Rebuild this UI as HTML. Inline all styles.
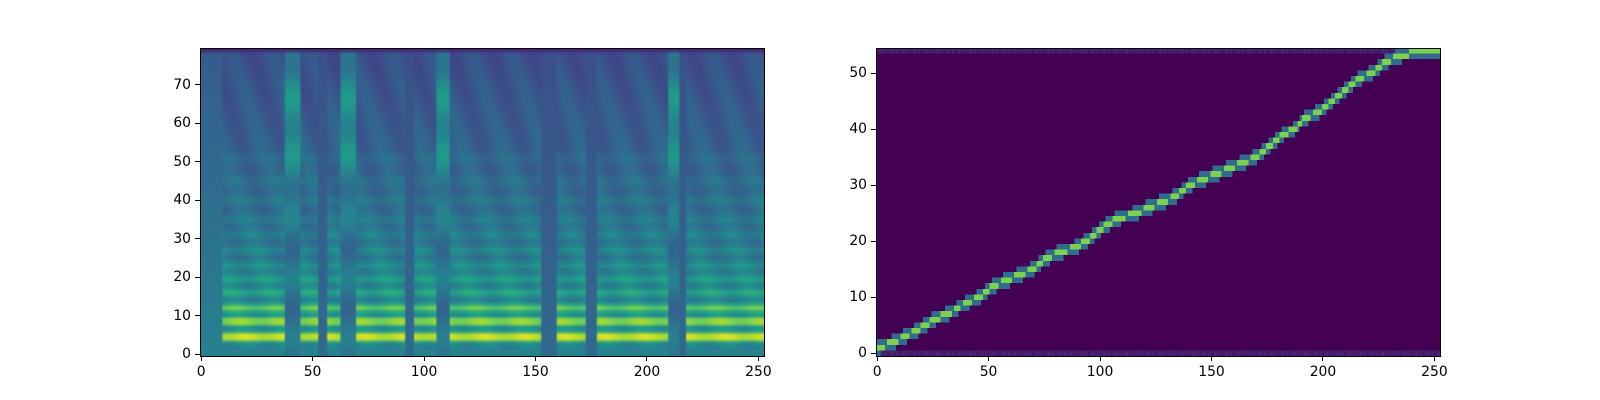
<!DOCTYPE html>
<html><head><meta charset="utf-8">
<style>
html,body{margin:0;padding:0;background:#fff;}
#fig{position:relative;width:1600px;height:400px;overflow:hidden;font-family:"DejaVu Sans","Liberation Sans",sans-serif;}
canvas{position:absolute;}
.frame{position:absolute;border:1px solid #000;box-sizing:border-box;}
.tl{position:absolute;font-size:13.9px;color:#000;line-height:14px;white-space:nowrap;}
.tk{position:absolute;background:#000;}
</style></head>
<body>
<div id="fig">
<canvas id="mel" width="253" height="80" style="left:200px;top:48px;width:564px;height:308px;image-rendering:auto"></canvas>
<canvas id="align" width="253" height="55" style="left:876px;top:48px;width:564px;height:308px;image-rendering:pixelated"></canvas>
<div class="frame" style="left:199.5px;top:47.5px;width:565px;height:309px"></div>
<div class="frame" style="left:875.5px;top:47.5px;width:565px;height:309px"></div>
</div>
<script>
// ---- data ----
const melXTicks=[0,50,100,150,200,250];
const melYTicks=[0,10,20,30,40,50,60,70];
const alXTicks=[0,50,100,150,200,250];
const alYTicks=[0,10,20,30,40,50];
const nFrames=253, nMel=80, nEnc=55;
// segments: start, end frame, kind (v=voiced, f=fricative, s=silence, n=noise)
const segStart=[0,10,38,45,53,57,63,70,92,96,106,112,153,160,173,178,210,215,218];
const segEnd  =[10,38,45,53,57,63,70,92,96,106,112,153,160,173,178,210,215,218,253];
const segKind =['n','v','f','v','s','v','f','v','s','v','f','v','s','v','s','v','f','s','v'];
// harmonic bands (mel rows) and strength
const bandRow=[4.5,8.5,12,16,19.5,23,27,31,35,40,45,51];
const bandAmp=[0.95,0.8,0.6,0.35,0.3,0.22,0.18,0.15,0.13,0.11,0.09,0.07];
// alignment path: decoder frame -> encoder index
const pathFrame=[0,8,12,18,25,32,40,46,52,58,64,70,76,82,90,97,103,108,116,122,128,134,140,146,152,158,164,170,176,182,187,192,198,204,210,216,222,228,234,243,252];
const pathEnc  =[1,2,3,4,6,7,9,10,12,13,14,15,17,18,19,21,23,24,25,26,27,28,30,31,32,33,34,35,37,39,40,42,43,45,47,49,50,52,53,54,54];

// ---- colormap ----
const vir=[[68,1,84],[72,40,120],[62,74,137],[49,104,142],[38,130,142],[31,158,137],[53,183,121],[110,206,88],[181,222,43],[253,231,37]];
function cmap(v){v=Math.max(0,Math.min(1,v));const p=v*9,i=Math.min(8,Math.floor(p)),t=p-i;const a=vir[i],b=vir[i+1];return [a[0]+(b[0]-a[0])*t,a[1]+(b[1]-a[1])*t,a[2]+(b[2]-a[2])*t];}
function kindAt(c){for(let i=0;i<segStart.length;i++)if(c>=segStart[i]&&c<segEnd[i])return segKind[i];return 's';}

// ---- mel ----
(function(){
const cv=document.getElementById('mel'),ctx=cv.getContext('2d');const img=ctx.createImageData(nFrames,nMel);
for(let c=0;c<nFrames;c++){const k=kindAt(c);
 for(let r=0;r<nMel;r++){let v;const hf=r/nMel;
  if(k==='s'){v=0.24+0.1*(1-hf);}
  else if(k==='f'){v=0.38+0.12*Math.exp(-Math.pow((r-60)/18,2))+0.06*Math.sin(r*0.4);}
  else if(k==='n'){v=0.28+0.16*(1-hf);}
  else{v=0.44-0.2*hf+0.04*Math.sin(c*0.35+r*0.2);for(let b=0;b<bandRow.length;b++){const d=r-bandRow[b];v+=bandAmp[b]*0.6*Math.exp(-d*d/1.3);}if(r<2)v=0.45;}
  if(r===nMel-1)v=0.1;
  const col=cmap(v),i=((nMel-1-r)*nFrames+c)*4;img.data[i]=col[0];img.data[i+1]=col[1];img.data[i+2]=col[2];img.data[i+3]=255;}}
ctx.putImageData(img,0,0);})();

// ---- alignment ----
(function(){
const cv=document.getElementById('align'),ctx=cv.getContext('2d');const img=ctx.createImageData(nFrames,nEnc);
function encAt(f){for(let i=0;i<pathFrame.length-1;i++)if(f>=pathFrame[i]&&f<=pathFrame[i+1]){const t=(f-pathFrame[i])/Math.max(1,pathFrame[i+1]-pathFrame[i]);return pathEnc[i]+(pathEnc[i+1]-pathEnc[i])*t;}return pathEnc[pathEnc.length-1];}
for(let c=0;c<nFrames;c++){const e=encAt(c);
 for(let r=0;r<nEnc;r++){const d=Math.abs(r-e);let v=d<0.5?0.8:d<1.2?0.35:0;
  if(r===0||r===nEnc-1)v=Math.max(v,0.06+0.06*((c*7)%5)/5);
  const col=cmap(v),i=((nEnc-1-r)*nFrames+c)*4;img.data[i]=col[0];img.data[i+1]=col[1];img.data[i+2]=col[2];img.data[i+3]=255;}}
ctx.putImageData(img,0,0);})();

// ---- axes ----
const fig=document.getElementById('fig');
function axes(left,w,nx,ny,xt,yt,prefix){
 const top=48,h=308;
 xt.forEach(t=>{const x=left+(t+0.5)/nx*w;
  const k=document.createElement('div');k.className='tk';
  
  
  k.style.cssText=`left:${x-0.5}px;top:${top+h}px;width:1px;height:5px`;fig.appendChild(k);
  const l=document.createElement('div');l.className='tl';
  
  
  l.textContent=t;l.style.left=x+'px';l.style.top=(top+h+9)+'px';l.style.transform='translateX(-50%)';fig.appendChild(l);});
 yt.forEach(t=>{const y=top+h-(t+0.5)/ny*h;
  const k=document.createElement('div');k.className='tk';
  
  
  k.style.cssText=`left:${left-5}px;top:${y-0.5}px;width:5px;height:1px`;fig.appendChild(k);
  const l=document.createElement('div');l.className='tl';
  
  
  l.textContent=t;l.style.right=(1600-left+9)+'px';l.style.top=(y-7)+'px';fig.appendChild(l);});
}
axes(200,564,nFrames,nMel,melXTicks,melYTicks,'mel');
axes(876,564,nFrames,nEnc,alXTicks,alYTicks,'alignment');
</script>
</body></html>
